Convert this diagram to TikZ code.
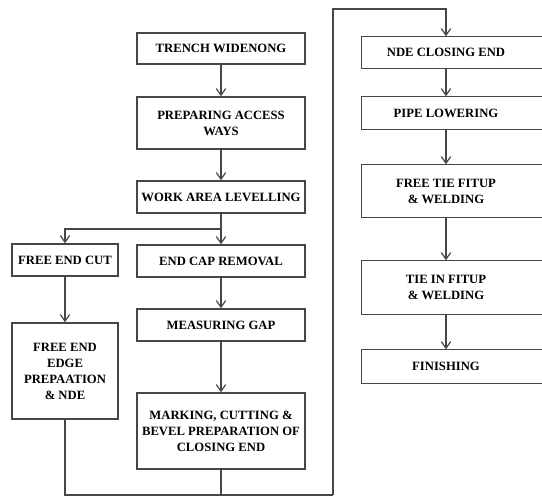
\documentclass[tikz,border=0pt]{standalone}
\usepackage{fontspec}
\setmainfont{Liberation Serif}
\usetikzlibrary{arrows.meta}
\definecolor{linegray}{RGB}{70,70,70}
\tikzset{
	box/.style={draw=linegray, line width=1.1pt, inner sep=0pt, align=center, font=\fontsize{9.5}{12}\selectfont\bfseries},
	rbox/.style={box, draw=none},
	arr/.style={draw=linegray, line width=0.9pt, -{Straight Barb[length=5pt,width=7pt]}},
	flow/.style={draw=linegray, line width=0.9pt}
}
\begin{document}
\begin{tikzpicture}[x=0.75pt,y=0.75pt,yscale=-1,xscale=1]
	\clip (0,0) rectangle (542,496);
	\node [box, minimum width=126pt, minimum height=23.25pt] (trench) at (221,48.5) {TRENCH WIDENONG};
	\node [box, minimum width=126pt, minimum height=39pt] (prep) at (221,123) {PREPARING ACCESS\\WAYS};
	\node [box, minimum width=126pt, minimum height=24pt] (work) at (221,197) {WORK AREA LEVELLING};
	\node [box, minimum width=79.5pt, minimum height=24pt] (freecut) at (65,260) {FREE END CUT};
	\node [box, minimum width=79.5pt, minimum height=72pt] (freeedge) at (65,371) {FREE END\\EDGE\\PREPAATION\\\& NDE};
	\node [box, minimum width=126pt, minimum height=24pt] (endcap) at (221,261) {END CAP REMOVAL};
	\node [box, minimum width=126pt, minimum height=24pt] (measure) at (221,325) {MEASURING GAP};
	\node [box, minimum width=126pt, minimum height=57pt] (marking) at (221,431) {MARKING, CUTTING \&\\BEVEL PREPARATION OF\\CLOSING END};
	\node [rbox, minimum width=126pt, minimum height=23.25pt] (nde) at (446,52.5) {NDE CLOSING END};
	\node [rbox, minimum width=126pt, minimum height=24pt] (pipe) at (446,113) {PIPE LOWERING};
	\node [rbox, minimum width=126pt, minimum height=39pt] (freetie) at (446,191) {FREE TIE FITUP\\\& WELDING};
	\node [rbox, minimum width=126pt, minimum height=39.75pt] (tiein) at (446,287.5) {TIE IN FITUP\\\& WELDING};
	\node [rbox, minimum width=126pt, minimum height=24.75pt] (finish) at (446,366.5) {FINISHING};
	\foreach \n in {nde,pipe,freetie,tiein,finish}
		\draw [draw=linegray, line width=1.1pt] ([xshift=30pt]\n.north east) -- (\n.north west) -- (\n.south west) -- ([xshift=30pt]\n.south east);
	\coordinate (split) at (221,229);
	\coordinate (join) at (221,495);
	\coordinate (riser) at (333,495);
	\coordinate (top) at (333,9);
	\draw [arr] (trench) -- (prep);
	\draw [arr] (prep) -- (work);
	\draw [arr] (work) -- (endcap);
	\draw [arr] (split) -| (freecut);
	\draw [arr] (freecut) -- (freeedge);
	\draw [arr] (endcap) -- (measure);
	\draw [arr] (measure) -- (marking);
	\draw [flow] (freeedge.south) |- (riser);
	\draw [flow] (marking) -- (join);
	\draw [arr] (riser) -- (top) -| (nde);
	\draw [arr] (nde) -- (pipe);
	\draw [arr] (pipe) -- (freetie);
	\draw [arr] (freetie) -- (tiein);
	\draw [arr] (tiein) -- (finish);
\end{tikzpicture}
\end{document}
